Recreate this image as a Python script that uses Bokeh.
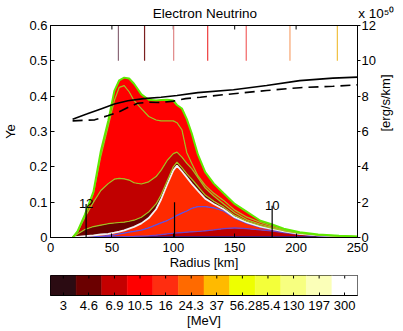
import math
from bokeh.plotting import figure
from bokeh.models import Range1d, LinearAxis, Label, FixedTicker, ColumnDataSource
from bokeh.layouts import column
from bokeh.embed import file_html
from bokeh.resources import INLINE

FONT = "Liberation Sans"

# ---------------- data ----------------
radius_km = [18, 22, 28, 35, 41, 47, 52, 56, 60, 64, 68, 74, 80, 86, 90, 95, 100, 103,
             107, 111, 115, 120, 126, 133, 141, 150, 160, 171, 180, 190, 203, 218, 235, 250]

# cumulative luminosity curves [10^50 erg/s/km], bottom -> top
lum_c0 = [0, 0.003, 0.006, 0.01, 0.015, 0.02, 0.025, 0.025, 0.025, 0.025, 0.025, 0.025, 0.025, 0.025,
          0.025, 0.025, 0.025, 0.025, 0.025, 0.025, 0.025, 0.025, 0.025, 0.025, 0.025, 0.025, 0.025,
          0.025, 0.025, 0.025, 0.025, 0.025, 0.022, 0.02]
lum_c1 = [0, 0.005, 0.01, 0.015, 0.02, 0.03, 0.035, 0.04, 0.045, 0.05, 0.06, 0.08, 0.1, 0.13, 0.16,
          0.2, 0.24, 0.26, 0.28, 0.3, 0.32, 0.34, 0.38, 0.43, 0.5, 0.54, 0.5, 0.43, 0.37, 0.28, 0.18,
          0.1, 0.06, 0.03]
lum_c2 = [0, 0.01, 0.02, 0.04, 0.06, 0.1, 0.15, 0.2, 0.25, 0.3, 0.35, 0.42, 0.55, 0.72, 0.83, 0.96,
          1.13, 1.25, 1.38, 1.5, 1.65, 1.75, 1.75, 1.68, 1.5, 1.1, 0.8, 0.58, 0.46, 0.33, 0.2, 0.11,
          0.07, 0.035]
lum_c3 = [0, 0.04, 0.08, 0.12, 0.17, 0.2, 0.27, 0.33, 0.4, 0.5, 0.6, 0.8, 1.1, 1.6, 2.15, 3.0, 3.8,
          4.07, 3.75, 3.4, 3.05, 2.65, 2.2, 1.9, 1.6, 1.15, 0.85, 0.62, 0.49, 0.35, 0.21, 0.12, 0.075,
          0.04]
lum_c4 = [0, 0.2, 0.45, 0.62, 0.7, 0.78, 0.82, 0.85, 0.87, 0.92, 0.98, 1.15, 1.45, 1.9, 2.4, 3.2,
          4.0, 4.26, 3.95, 3.6, 3.3, 2.9, 2.4, 2.05, 1.72, 1.25, 0.92, 0.68, 0.53, 0.38, 0.23, 0.13,
          0.08, 0.045]
lum_c5 = [0, 0.3, 1.15, 2.0, 2.66, 3.05, 3.3, 3.35, 3.32, 3.25, 3.1, 3.03, 3.15, 3.45, 3.8, 4.36,
          4.75, 4.83, 4.55, 4.2, 3.9, 3.4, 2.8, 2.35, 1.9, 1.4, 1.0, 0.75, 0.58, 0.41, 0.25, 0.14,
          0.085, 0.05]
lum_c6 = [0, 0.33, 1.25, 2.5, 4.6, 6.3, 7.75, 8.5, 8.6, 8.25, 7.75, 7.3, 6.85, 6.65, 6.6, 6.6, 6.6,
          6.5, 6.1, 4.8, 4.2, 3.5, 2.95, 2.5, 2.1, 1.55, 1.15, 0.85, 0.65, 0.45, 0.27, 0.15, 0.09,
          0.055]
lum_c7 = [0, 0.35, 1.3, 2.6, 4.9, 6.6, 8.3, 8.9, 9.05, 9.0, 8.7, 8.1, 7.8, 7.75, 7.78, 7.8, 7.75,
          7.5, 7.3, 6.7, 5.9, 4.7, 3.7, 3.05, 2.5, 1.9, 1.45, 0.95, 0.75, 0.5, 0.3, 0.17, 0.1, 0.06]

curves = [lum_c0, lum_c1, lum_c2, lum_c3, lum_c4, lum_c5, lum_c6, lum_c7]
layer_fills = ["#2b0b12", "#c00000", "#ff2a00", "#ff2a00", "#6a0000", "#c00000", "#ff0000", "#ff0000"]
edge_colors = ["#20209a", "#6a44cc", "#5a50e6", "#f2f2f2", "#a0c020", "#a0c020", "#a0c020", "#5eea00"]
edge_widths = [1.5, 1.2, 1.3, 1.8, 1.2, 1.2, 1.2, 2.0]

ye_r_solid = [18, 30, 41, 52, 63, 76, 90, 103, 120, 149, 176, 203, 230, 250]
ye_solid = [0.335, 0.350, 0.364, 0.378, 0.387, 0.393, 0.397, 0.402, 0.410, 0.418, 0.430, 0.444,
            0.451, 0.454]
ye_r_dash = [18, 36, 47, 56, 63, 71, 80, 90, 100, 110, 122, 149, 176, 203, 230, 250]
ye_dash = [0.330, 0.333, 0.345, 0.356, 0.368, 0.380, 0.383, 0.382, 0.386, 0.393, 0.397, 0.407,
           0.416, 0.424, 0.428, 0.432]

mean_r = [55.3, 76.6, 100.3, 128, 159.4, 195, 233.6]
mean_colors = ["#8b6878", "#7b2020", "#e08888", "#ee3c3c", "#f26464", "#f8a470", "#f0c040"]

mark_r = [29, 101, 180.5]
mark_top = [1.9, 2.0, 1.8]
mark_text = ["12", "", "10"]

energy_labels = ["3", "4.6", "6.9", "10.5", "16", "24.3", "37", "56.2", "85.4", "130", "197", "300"]
energy_colors = ["#2b0b12", "#6b0000", "#c40000", "#ff0000", "#ff2d10", "#ff6a00", "#ffba00",
                 "#eeff00", "#f3ff3a", "#f7ff80", "#fbffb8", "#ffffff"]

x_ticks = [0, 50, 100, 150, 200, 250]
ye_ticks = [0, 0.1, 0.2, 0.3, 0.4, 0.5, 0.6]
lum_ticks = [0, 2, 4, 6, 8, 10, 12]

TITLE = "Electron Neutrino"
SCALE_NOTE = "x 10\u2075\u2070"

# ---------------- main figure ----------------
p = figure(width=403, height=273, title=None, output_backend="svg", toolbar_location=None,
           x_range=Range1d(0, 250), y_range=Range1d(0, 0.6),
           min_border_left=49, min_border_right=45, min_border_top=25, min_border_bottom=36)
p.extra_y_ranges = {"lum": Range1d(0, 12)}
p.xgrid.visible = False
p.ygrid.visible = False
p.outline_line_color = "black"
p.outline_line_width = 1
p.background_fill_color = "white"
p.border_fill_color = "white"


def style_axis(ax, ticks, tin, tout, standoff, overrides=None, size="13px"):
    ax.ticker = FixedTicker(ticks=ticks)
    ax.major_tick_in = tin
    ax.major_tick_out = tout
    ax.minor_tick_line_color = None
    ax.major_tick_line_color = "black"
    ax.axis_line_color = "black"
    ax.major_label_standoff = standoff
    ax.major_label_text_font = FONT
    ax.major_label_text_font_size = size
    ax.major_label_text_color = "black"
    ax.axis_label_text_font = FONT
    ax.axis_label_text_font_size = "13px"
    ax.axis_label_text_font_style = "normal"
    ax.axis_label_text_color = "black"
    if overrides:
        ax.major_label_overrides = overrides


xa = p.xaxis[0]
style_axis(xa, x_ticks, 4, 0, 5)
xa.axis_label = "Radius [km]"
xa.axis_label_standoff = 0

ya = p.yaxis[0]
style_axis(ya, ye_ticks, 4, 0, 3, {t: ("0" if t == 0 else str(t)) for t in ye_ticks})
ya.axis_label = "Ye"
ya.axis_label_standoff = 8

right = LinearAxis(y_range_name="lum")
style_axis(right, lum_ticks, 0, 3, 1)
right.axis_label = "[erg/s/km]"
right.axis_label_standoff = 7
try:
    right.axis_label_orientation = math.pi / 2
except Exception:
    pass
p.add_layout(right, "right")

# top axis carries the title and the scale note as its labels
title_x = (204.5 - 49) / 1.236
pad = "\u00a0" * 10
top = LinearAxis()
style_axis(top, [title_x, 250], 0, 0, 5,
           {title_x: TITLE, 250: pad + SCALE_NOTE}, size="13.5px")
top.major_tick_line_color = None
p.add_layout(top, "above")
# inward tick marks of the top edge
top_ticks = x_ticks[1:-1]
p.segment(x0=top_ticks, y0=[0.6] * len(top_ticks), x1=top_ticks, y1=[0.5887] * len(top_ticks),
          line_color="black", line_width=1)

# stacked areas
prev = [0.0] * len(radius_km)
for cur, fc in zip(curves, layer_fills):
    p.varea(x=radius_km, y1=prev, y2=cur, fill_color=fc, y_range_name="lum")
    prev = cur
for cur, lc, lw in zip(curves, edge_colors, edge_widths):
    p.line(radius_km, cur, line_color=lc, line_width=lw, y_range_name="lum")

# Ye curves
p.line(ye_r_solid, ye_solid, line_color="black", line_width=1.6)
p.line(ye_r_dash, ye_dash, line_color="black", line_width=1.6, line_dash="10 6")

# mean energy markers at top
p.segment(x0=mean_r, y0=[0.5] * len(mean_r), x1=mean_r, y1=[0.6] * len(mean_r),
          line_color=mean_colors, line_width=1.2)

# radius markers
p.segment(x0=mark_r, y0=[0] * len(mark_r), x1=mark_r, y1=mark_top, line_color="black",
          line_width=1.2, y_range_name="lum")
for r, t, s in zip(mark_r, mark_top, mark_text):
    if s:
        p.add_layout(Label(x=r, y=t, text=s, y_range_name="lum", text_font=FONT,
                           text_font_size="13px", text_align="center",
                           text_baseline="middle", text_color="black"))

# ---------------- colorbar ----------------
n = len(energy_labels)
cb = figure(width=403, height=58, title=None, output_backend="svg", toolbar_location=None,
            x_range=Range1d(0, n), y_range=Range1d(0, 1), y_axis_location=None,
            min_border_left=49, min_border_right=45, min_border_top=2, min_border_bottom=36)
cb.grid.visible = False
cb.outline_line_color = "black"
cb.outline_line_width = 1
cb.border_fill_color = "white"
src = ColumnDataSource(dict(left=list(range(n)), right=[i + 1 for i in range(n)],
                            color=energy_colors))
cb.quad(left="left", right="right", bottom=0, top=1, fill_color="color", line_color="color",
        line_width=0.5, source=src)
centers = [i + 0.5 for i in range(n)]
cba = cb.xaxis[0]
style_axis(cba, centers, 3, 0, 5, {c: l for c, l in zip(centers, energy_labels)})
cba.axis_label = "[MeV]"
cba.axis_label_standoff = 0
cb.segment(x0=centers, y0=[1.0] * n, x1=centers, y1=[0.85] * n, line_color="black", line_width=1)

layout = column(p, cb, spacing=0)
open("out.html", "w").write(file_html(layout, INLINE))
